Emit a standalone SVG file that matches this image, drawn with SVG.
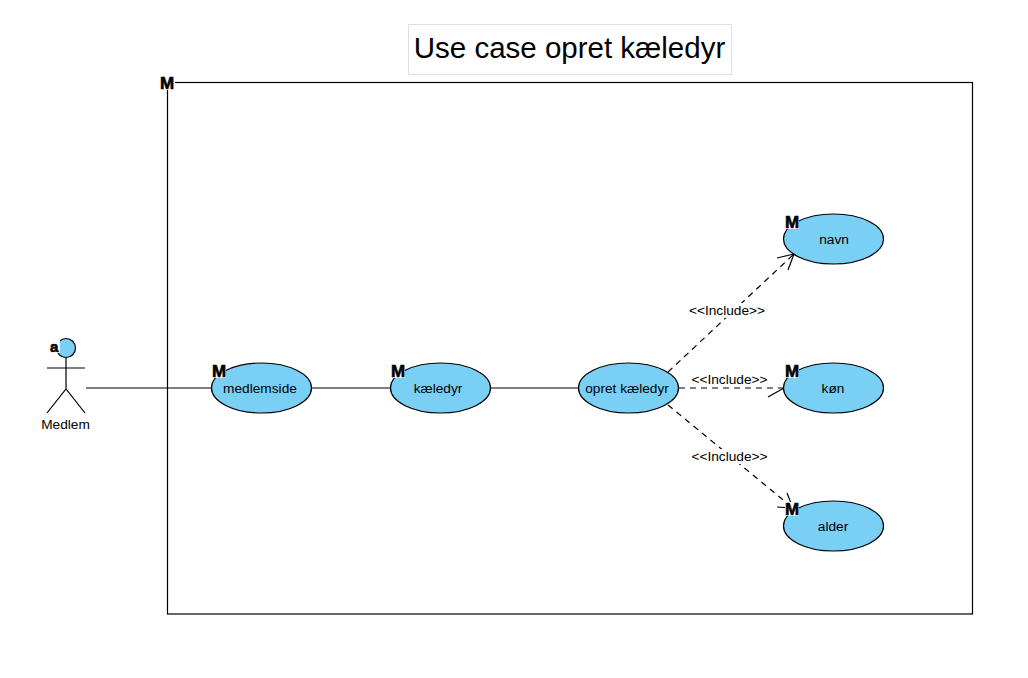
<svg xmlns="http://www.w3.org/2000/svg" width="1028" height="678" viewBox="0 0 1028 678">
<style>
text{font-family:"Liberation Sans",Arial,sans-serif;fill:#000}
.u{fill:#7acff5;stroke:#000;stroke-width:1.2}
.t{font-size:13.7px;text-anchor:middle}
.m{font-size:17px;font-weight:bold;stroke:#000;stroke-width:.6;paint-order:stroke}
.bg{fill:#fff}
.c{fill:none;stroke:#000;stroke-width:1.2}
.d{stroke-dasharray:6 5}
</style>
<rect width="1028" height="678" fill="#fff"/>
<g id="title"><rect x="408.5" y="24.5" width="323" height="50" fill="#fff" stroke="#e0e0e0"/><text x="569.5" y="58" font-size="29.5" text-anchor="middle">Use case opret kæledyr</text></g>
<g id="system"><rect x="167.5" y="82.5" width="805" height="531.5" fill="#fff" stroke="#000" stroke-width="1.2"/><rect x="160" y="75" width="15" height="15" class="bg"/><text x="160" y="89" class="m">M</text></g>
<g id="connectors">
<path class="c" d="M86 388H211M312 388H390M491 388H578"/>
<path class="c d" d="M668 372L794 254M679 388H784M668 405L793 508"/>
<path class="c" d="M777 258L794 254L788 270M768 397L784 388M787 493L793 508L777 507"/>
</g>
<g id="labels">
<rect x="688" y="303" width="78" height="15" class="bg"/><text x="727" y="315" class="t">&lt;&lt;Include&gt;&gt;</text>
<rect x="690" y="372" width="79" height="14" class="bg"/><text x="729.5" y="384" class="t">&lt;&lt;Include&gt;&gt;</text>
<rect x="690" y="449" width="79" height="15" class="bg"/><text x="729.5" y="461" class="t">&lt;&lt;Include&gt;&gt;</text>
</g>
<g id="actor-medlem"><circle cx="66" cy="348" r="9.5" class="u"/><rect x="50" y="340" width="10" height="13" class="bg"/><text x="50" y="352" class="m" style="font-size:15px">a</text>
<path class="c" d="M66 358V389M47 368H85M47 413L66 389L85 413"/><text x="65.5" y="429" class="t">Medlem</text></g>
<g id="uc-medlemside"><ellipse cx="261.5" cy="388" rx="50" ry="25" class="u"/><rect x="212" y="364" width="14" height="14" class="bg"/><text x="212" y="377" class="m">M</text><text x="260" y="393" class="t">medlemside</text></g>
<g id="uc-kaeledyr"><ellipse cx="440.5" cy="388" rx="50" ry="25" class="u"/><rect x="391" y="364" width="14" height="14" class="bg"/><text x="391" y="377" class="m">M</text><text x="438" y="393" class="t">kæledyr</text></g>
<g id="uc-opret-kaeledyr"><ellipse cx="628.5" cy="388" rx="50" ry="25" class="u"/><text x="627" y="393" class="t">opret kæledyr</text></g>
<g id="uc-navn"><ellipse cx="833.5" cy="239" rx="50" ry="25" class="u"/><rect x="785" y="215" width="14" height="14" class="bg"/><text x="785" y="228" class="m">M</text><text x="834" y="244" class="t">navn</text></g>
<g id="uc-kon"><ellipse cx="833.5" cy="388" rx="50" ry="25" class="u"/><rect x="785" y="364" width="14" height="14" class="bg"/><text x="785" y="377" class="m">M</text><text x="833" y="393" class="t">køn</text></g>
<g id="uc-alder"><ellipse cx="833.5" cy="526" rx="50" ry="25" class="u"/><rect x="785" y="502" width="14" height="14" class="bg"/><text x="785" y="515" class="m">M</text><text x="833" y="531" class="t">alder</text></g>
</svg>
